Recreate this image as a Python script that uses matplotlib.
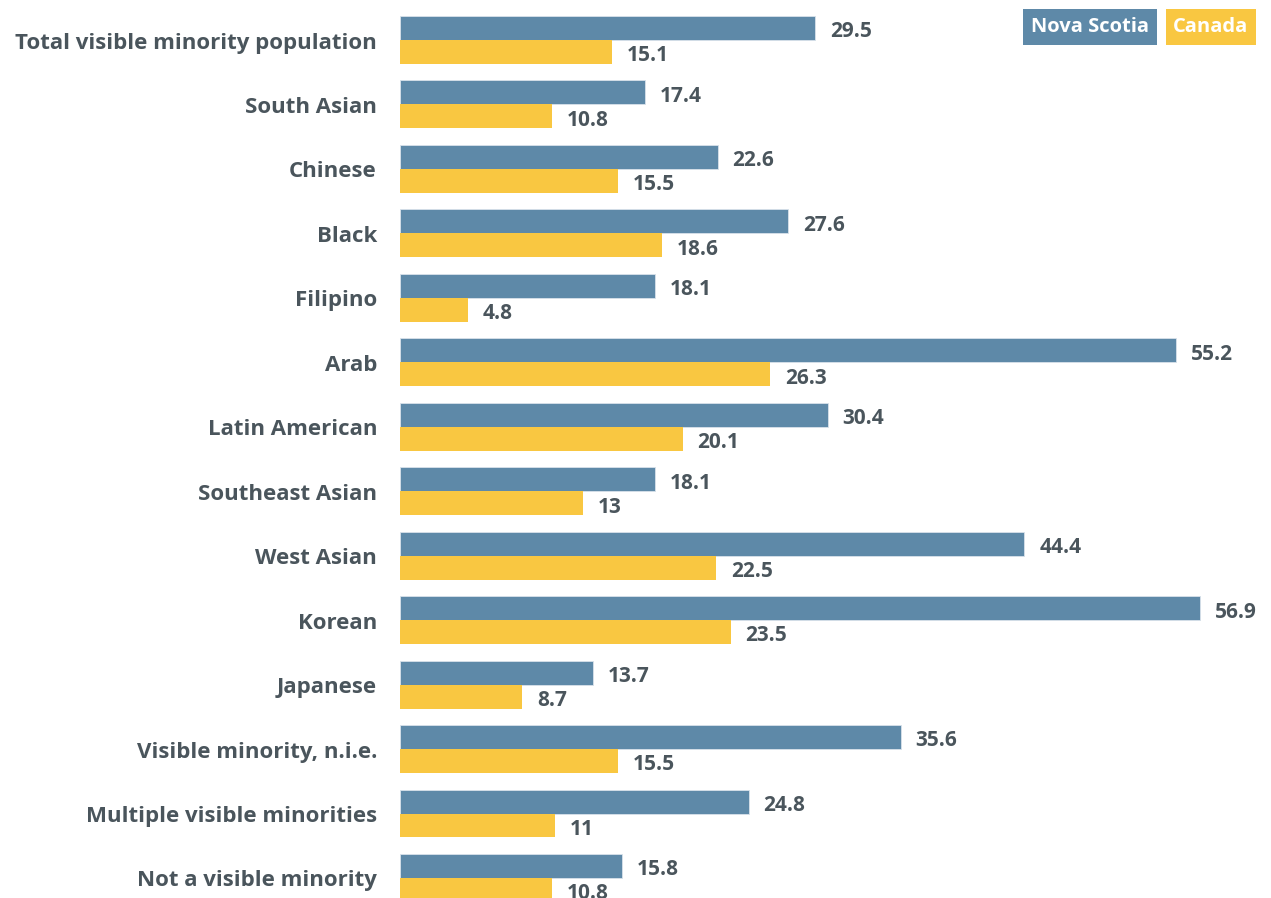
import matplotlib.pyplot as plt
import numpy as np

categories = ["Total visible minority population", "South Asian", "Chinese", "Black",
              "Filipino", "Arab", "Latin American", "Southeast Asian", "West Asian",
              "Korean", "Japanese", "Visible minority, n.i.e.",
              "Multiple visible minorities", "Not a visible minority"]
nova_scotia = [29.5, 17.4, 22.6, 27.6, 18.1, 55.2, 30.4, 18.1, 44.4, 56.9, 13.7, 35.6, 24.8, 15.8]
canada = [15.1, 10.8, 15.5, 18.6, 4.8, 26.3, 20.1, 13, 22.5, 23.5, 8.7, 15.5, 11, 10.8]

blue = "#5e89a8"
yellow = "#f9c741"
txt = "#4a555c"

fig = plt.figure(figsize=(12.71, 8.98), dpi=100)
ax = fig.add_axes([400 / 1271, 0, 871 / 1271, 1])

y = np.arange(len(categories))
h = 0.372
ax.barh(y - h / 2, nova_scotia, height=h, color=blue, edgecolor="#d8e2ea", linewidth=0.6)
ax.barh(y + h / 2, canada, height=h, color=yellow)

dy = 0.06  # labels sit a bit below bar centre
for i in range(len(categories)):
    ax.text(nova_scotia[i] + 1.05, y[i] - h / 2 + dy, f"{nova_scotia[i]:g}", va="center", ha="left",
            fontsize=15, fontweight="bold", color=txt, family="Open Sans")
    ax.text(canada[i] + 1.05, y[i] + h / 2 + dy, f"{canada[i]:g}", va="center", ha="left",
            fontsize=15, fontweight="bold", color=txt, family="Open Sans")
    fig.text(377 / 1271, 1 - (43 + i * 64.46) / 898, categories[i], ha="right", va="center",
             fontsize=16, fontweight="bold", color=txt, family="Open Sans")

ax.set_xlim(0, 871 / 14.065)
ax.set_ylim((898 - 40) / 64.46, -40 / 64.46)
ax.axis("off")

fig.text(1090 / 1271, 1 - 27 / 898, "Nova Scotia", ha="center", va="center", color="white",
         fontsize=14.5, fontweight="bold", family="Open Sans",
         bbox=dict(boxstyle="square,pad=0.38", fc=blue, ec="none"))
fig.text(1211 / 1271, 1 - 27 / 898, "Canada", ha="center", va="center", color="white",
         fontsize=14.5, fontweight="bold", family="Open Sans",
         bbox=dict(boxstyle="square,pad=0.38", fc=yellow, ec="none"))

fig.savefig("out.png", dpi=100)
